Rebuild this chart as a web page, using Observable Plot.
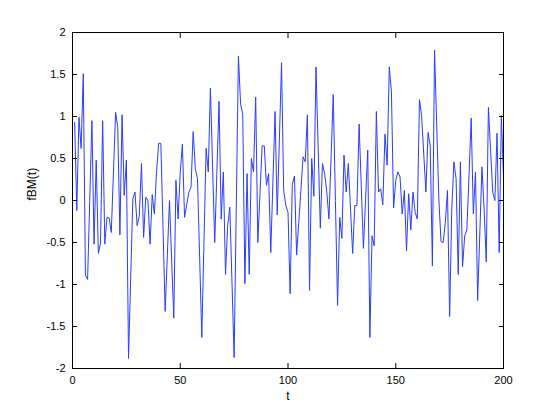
<!DOCTYPE html>
<html>
<head>
<meta charset="utf-8">
<script src="https://cdn.jsdelivr.net/npm/d3@7"></script>
<script src="https://cdn.jsdelivr.net/npm/@observablehq/plot@0.6"></script>
<style>
  html, body { margin: 0; padding: 0; background: #fff; }
  svg { font-family: "Liberation Sans", Arial, sans-serif; }
</style>
</head>
<body>
<div id="chart"></div>
<script>
// fBM(t) values for t = 1..200
const fbm = [
  0.93, -0.12, 0.99, 0.62, 1.51, -0.89, -0.94, 0.0, 0.95, -0.52,
  0.48, -0.63, -0.51, 0.95, -0.52, -0.2, -0.21, -0.38, 0.33, 1.05,
  0.87, -0.41, 1.02, 0.06, 0.48, -1.88, -0.93, 0.02, 0.1, -0.3,
  -0.18, 0.44, -0.44, 0.04, 0.0, -0.52, 0.07, -0.16, 0.34, 0.68,
  0.68, -0.32, -1.32, -0.66, 0.0, -0.7, -1.4, 0.24, -0.22, 0.34,
  0.67, -0.2, -0.05, 0.1, 0.16, 0.82, 0.38, 0.26, -0.68, -1.63,
  -0.5, 0.62, 0.34, 1.34, 0.42, -0.5, 0.34, 1.18, -0.22, 0.34,
  -0.88, -0.3, -0.08, -0.97, -1.87, -0.07, 1.72, 1.15, 1.03, -0.99,
  0.32, -0.88, 0.5, 0.34, 1.23, -0.5, 0.08, 0.65, 0.65, 0.18,
  0.32, -0.62, 0.22, 1.06, -0.17, 0.73, 1.64, 0.12, -0.06, -0.14,
  -1.11, 0.19, 0.29, -0.65, -0.26, 0.13, 0.52, 0.46, 1.02, -1.07,
  0.5, 0.05, 1.59, 0.63, -0.33, 0.44, 0.32, 0.1, -0.22, 0.52,
  1.26, 0.0, -1.25, -0.2, -0.45, 0.54, 0.1, 0.44, -0.1, -0.63,
  -0.06, -0.06, 0.91, 0.17, -0.57, 0.02, 0.6, -1.63, -0.42, -0.54,
  1.06, 0.1, 0.14, -0.05, 0.79, 0.42, 1.59, 1.29, -0.09, 0.24,
  0.34, 0.28, -0.16, 0.12, -0.6, 0.08, -0.35, 0.1, -0.14, -0.22,
  1.2, 1.01, 0.55, 0.1, 0.81, 0.65, -0.78, 1.79, 0.9, 0.02,
  -0.49, -0.5, -0.26, 0.12, -1.38, -0.1, 0.46, 0.26, -0.88, 0.46,
  -0.79, -0.42, -0.35, 0.3, 0.98, -0.16, 0.34, -1.19, -0.4, 0.4,
  -0.1, -0.73, 1.11, 0.6, 0.1, 0.0, 0.8, -0.62, 1.01, 0.28
];
const tValues = fbm.map((_, i) => i + 1);
const xTicks = [0, 50, 100, 150, 200];
const yTicks = [-2, -1.5, -1, -0.5, 0, 0.5, 1, 1.5, 2];
const xLabel = "t";
const yLabel = "fBM(t)";

const data = tValues.map((t, i) => ({t, v: fbm[i]}));

const chart = Plot.plot({
  width: 554,
  height: 415,
  marginLeft: 72,
  marginRight: 51,
  marginTop: 32,
  marginBottom: 47,
  style: {fontSize: "11px", fontFamily: "'Liberation Sans', Arial, sans-serif", color: "#000", background: "#fff"},
  x: {domain: [0, 200]},
  y: {domain: [-2, 2]},
  marks: [
    Plot.line(data, {x: "t", y: "v", stroke: "#2a3cff", strokeWidth: 1}),
    Plot.frame({stroke: "#000", strokeWidth: 1}),
    Plot.axisX(xTicks, {anchor: "bottom", tickSize: -5, tickPadding: 13, label: null, fill: "#000", stroke: "#000"}),
    Plot.axisX(xTicks, {anchor: "top", tickSize: -5, tickFormat: () => "", label: null, stroke: "#000"}),
    Plot.axisY(yTicks, {anchor: "left", tickSize: -5, tickPadding: 12, label: null, tickFormat: d => String(d), fill: "#000", stroke: "#000"}),
    Plot.axisY(yTicks, {anchor: "right", tickSize: -5, tickFormat: () => "", label: null, stroke: "#000"}),
    Plot.text([xLabel], {frameAnchor: "bottom", dy: 31, fontSize: 12, fill: "#000"}),
    Plot.text([yLabel], {frameAnchor: "left", dx: -40, rotate: -90, fontSize: 12, fill: "#000"})
  ]
});
document.getElementById("chart").appendChild(chart);
</script>
</body>
</html>
